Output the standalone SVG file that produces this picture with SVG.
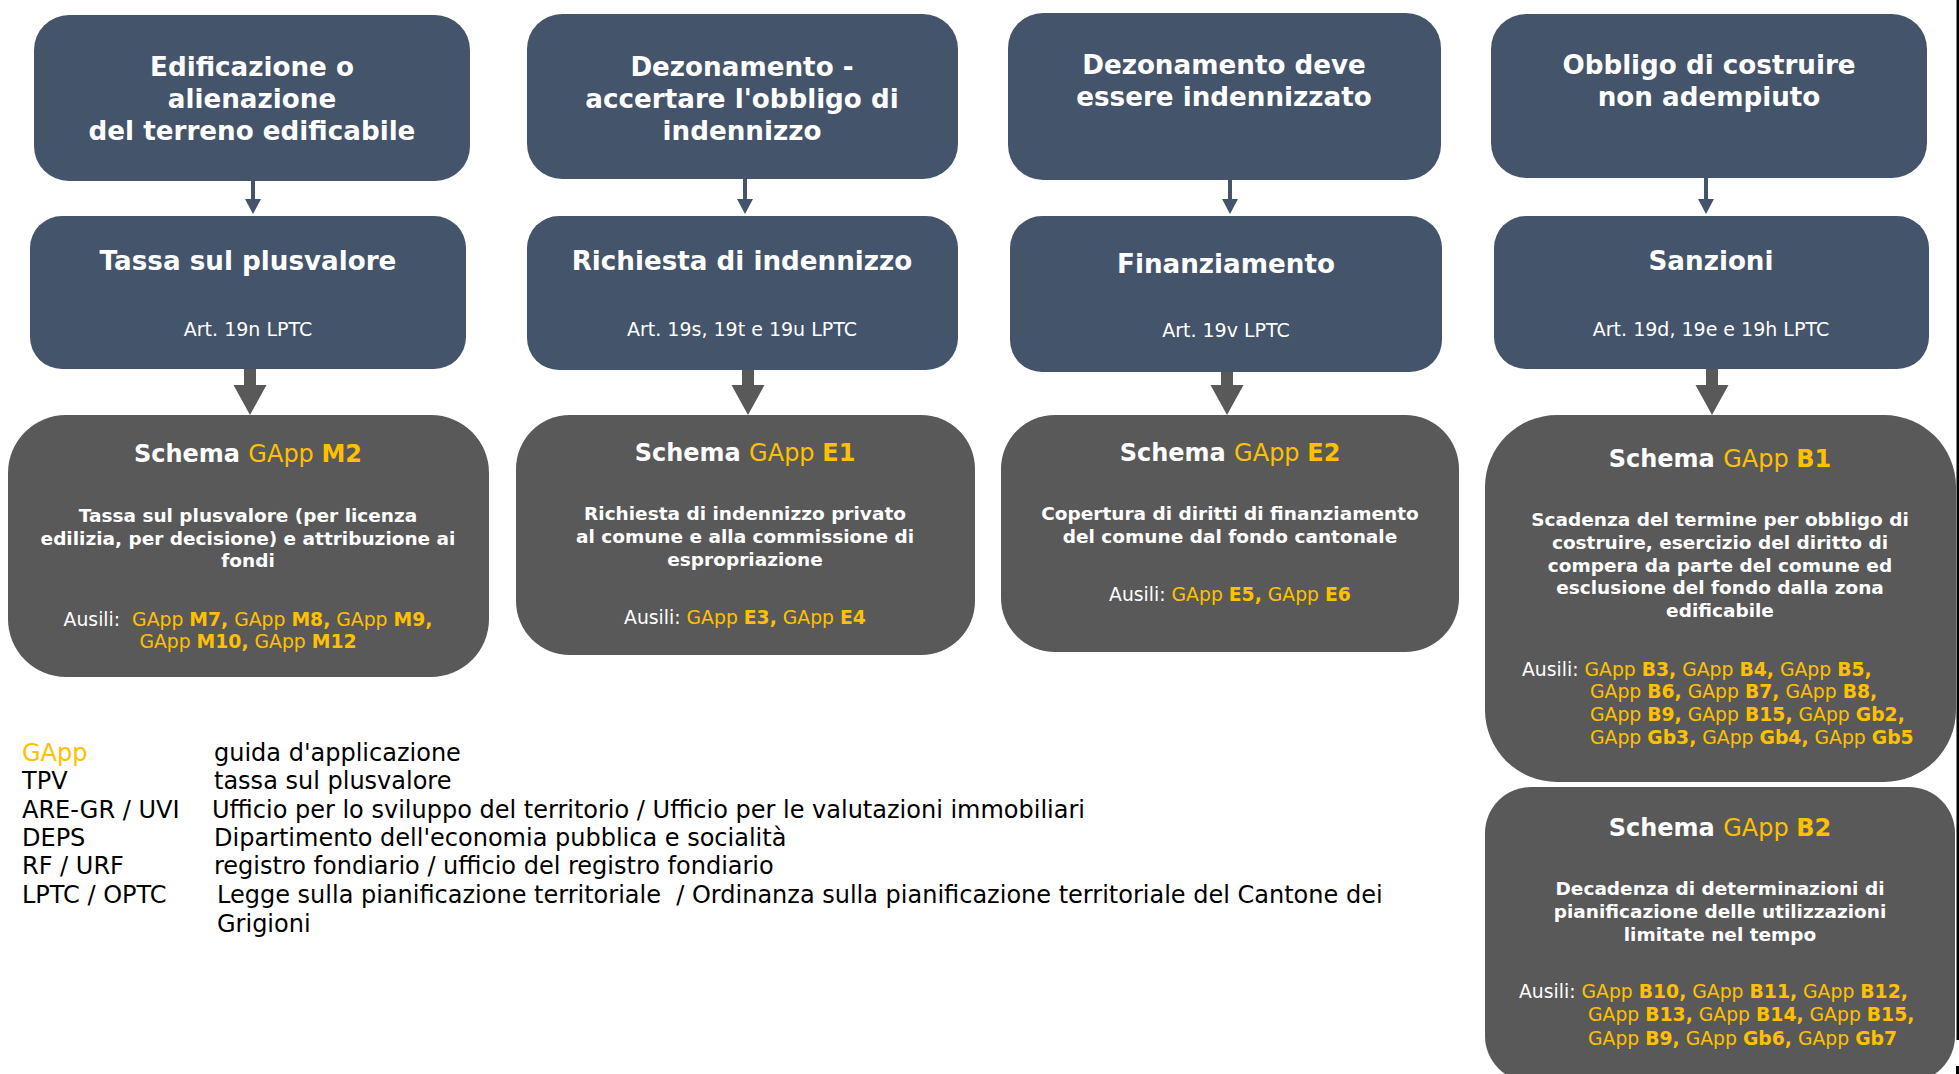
<svg xmlns="http://www.w3.org/2000/svg" width="1959" height="1074" viewBox="0 0 1959 1074">
<style>
.top{fill:#44546A}
.sch{fill:#595959}
.tt{font-family:"DejaVu Sans",Verdana,sans-serif;font-weight:bold;font-size:26.2px;fill:#fff;text-anchor:middle}
.art{font-family:"DejaVu Sans",Verdana,sans-serif;font-size:19px;fill:#fff;text-anchor:middle}
.sh{font-family:"DejaVu Sans",Verdana,sans-serif;font-size:24px;fill:#fff;text-anchor:middle;font-weight:bold}
.bd{font-family:"DejaVu Sans",Verdana,sans-serif;font-size:18.5px;fill:#fff;text-anchor:middle;font-weight:bold}
.au{font-family:"DejaVu Sans",Verdana,sans-serif;font-size:18.8px;fill:#FFC000}
.c{text-anchor:middle}
.r{font-weight:normal}
.b{font-weight:bold}
.w{fill:#fff}
.y{fill:#FFC000}
.lg{font-family:"DejaVu Sans",Verdana,sans-serif;font-size:24px;fill:#000}
.thin{stroke:#44546A;stroke-width:4;fill:none}
.thinh{fill:#44546A}
.thick{fill:#595959}
</style>

<g id="n-edificazione">
<rect class="top" x="34" y="15" width="436" height="166" rx="35"/>
<text class="tt"><tspan x="252" y="76">Edificazione o</tspan><tspan x="252" y="108">alienazione</tspan><tspan x="252" y="140">del terreno edificabile</tspan></text>
</g>
<g id="n-dezonamento">
<rect class="top" x="527" y="14" width="431" height="165" rx="35"/>
<text class="tt"><tspan x="742" y="76">Dezonamento -</tspan><tspan x="742" y="108">accertare l'obbligo di</tspan><tspan x="742" y="140">indennizzo</tspan></text>
</g>
<g id="n-dezonamento-deve">
<rect class="top" x="1008" y="13" width="433" height="167" rx="35"/>
<text class="tt"><tspan x="1224" y="74">Dezonamento deve</tspan><tspan x="1224" y="106">essere indennizzato</tspan></text>
</g>
<g id="n-obbligo">
<rect class="top" x="1491" y="14" width="436" height="164" rx="35"/>
<text class="tt"><tspan x="1709" y="74">Obbligo di costruire</tspan><tspan x="1709" y="106">non adempiuto</tspan></text>
</g>

<g id="n-tassa">
<rect class="top" x="30" y="216" width="436" height="153" rx="32"/>
<text class="tt" x="248" y="270">Tassa sul plusvalore</text>
<text class="art" x="248" y="336">Art. 19n LPTC</text>
</g>
<g id="n-richiesta">
<rect class="top" x="527" y="216" width="431" height="154" rx="32"/>
<text class="tt" x="742" y="270">Richiesta di indennizzo</text>
<text class="art" x="742" y="336">Art. 19s, 19t e 19u LPTC</text>
</g>
<g id="n-finanziamento">
<rect class="top" x="1010" y="216" width="432" height="156" rx="32"/>
<text class="tt" x="1226" y="273">Finanziamento</text>
<text class="art" x="1226" y="337">Art. 19v LPTC</text>
</g>
<g id="n-sanzioni">
<rect class="top" x="1494" y="216" width="435" height="153" rx="32"/>
<text class="tt" x="1711" y="270">Sanzioni</text>
<text class="art" x="1711" y="336">Art. 19d, 19e e 19h LPTC</text>
</g>

<g id="n-m2">
<rect class="sch" x="8" y="415" width="481" height="262" rx="58"/>
<text class="sh" x="248" y="462">Schema <tspan class="r y">GApp </tspan><tspan class="y">M2</tspan></text>
<text class="bd"><tspan x="248" y="522">Tassa sul plusvalore (per licenza</tspan><tspan x="248" y="544.5">edilizia, per decisione) e attribuzione ai</tspan><tspan x="248" y="567">fondi</tspan></text>
<text class="au c" x="248" y="626"><tspan class="w">Ausili:&#160; </tspan>GApp <tspan class="b">M7,</tspan> GApp <tspan class="b">M8,</tspan> GApp <tspan class="b">M9,</tspan></text>
<text class="au c" x="248" y="648">GApp <tspan class="b">M10,</tspan> GApp <tspan class="b">M12</tspan></text>
</g>
<g id="n-e1">
<rect class="sch" x="516" y="415" width="459" height="240" rx="54"/>
<text class="sh" x="745" y="461">Schema <tspan class="r y">GApp </tspan><tspan class="y">E1</tspan></text>
<text class="bd"><tspan x="745" y="520">Richiesta di indennizzo privato</tspan><tspan x="745" y="543">al comune e alla commissione di</tspan><tspan x="745" y="566">espropriazione</tspan></text>
<text class="au c" x="745" y="624"><tspan class="w">Ausili: </tspan>GApp <tspan class="b">E3,</tspan> GApp <tspan class="b">E4</tspan></text>
</g>
<g id="n-e2">
<rect class="sch" x="1001" y="415" width="458" height="237" rx="54"/>
<text class="sh" x="1230" y="461">Schema <tspan class="r y">GApp </tspan><tspan class="y">E2</tspan></text>
<text class="bd"><tspan x="1230" y="520">Copertura di diritti di finanziamento</tspan><tspan x="1230" y="543">del comune dal fondo cantonale</tspan></text>
<text class="au c" x="1230" y="601"><tspan class="w">Ausili: </tspan>GApp <tspan class="b">E5,</tspan> GApp <tspan class="b">E6</tspan></text>
</g>
<g id="n-b1">
<rect class="sch" x="1485" y="415" width="471" height="367" rx="72"/>
<text class="sh" x="1720" y="467">Schema <tspan class="r y">GApp </tspan><tspan class="y">B1</tspan></text>
<text class="bd"><tspan x="1720" y="526">Scadenza del termine per obbligo di</tspan><tspan x="1720" y="549">costruire, esercizio del diritto di</tspan><tspan x="1720" y="572">compera da parte del comune ed</tspan><tspan x="1720" y="594">esclusione del fondo dalla zona</tspan><tspan x="1720" y="617">edificabile</tspan></text>
<text class="au"><tspan class="w" x="1522" y="676">Ausili: </tspan>GApp <tspan class="b">B3,</tspan> GApp <tspan class="b">B4,</tspan> GApp <tspan class="b">B5,</tspan><tspan x="1590" y="698">GApp </tspan><tspan class="b">B6,</tspan> GApp <tspan class="b">B7,</tspan> GApp <tspan class="b">B8,</tspan><tspan x="1590" y="721">GApp </tspan><tspan class="b">B9,</tspan> GApp <tspan class="b">B15,</tspan> GApp <tspan class="b">Gb2,</tspan><tspan x="1590" y="744">GApp </tspan><tspan class="b">Gb3,</tspan> GApp <tspan class="b">Gb4,</tspan> GApp <tspan class="b">Gb5</tspan></text>
</g>
<g id="n-b2">
<rect class="sch" x="1485" y="787" width="470" height="295" rx="46"/>
<text class="sh" x="1720" y="836">Schema <tspan class="r y">GApp </tspan><tspan class="y">B2</tspan></text>
<text class="bd"><tspan x="1720" y="895">Decadenza di determinazioni di</tspan><tspan x="1720" y="918">pianificazione delle utilizzazioni</tspan><tspan x="1720" y="941">limitate nel tempo</tspan></text>
<text class="au"><tspan class="w" x="1519" y="998">Ausili: </tspan>GApp <tspan class="b">B10,</tspan> GApp <tspan class="b">B11,</tspan> GApp <tspan class="b">B12,</tspan><tspan x="1588" y="1021">GApp </tspan><tspan class="b">B13,</tspan> GApp <tspan class="b">B14,</tspan> GApp <tspan class="b">B15,</tspan><tspan x="1588" y="1045">GApp </tspan><tspan class="b">B9,</tspan> GApp <tspan class="b">Gb6,</tspan> GApp <tspan class="b">Gb7</tspan></text>
</g>

<g id="connectors">
<line class="thin" x1="253" y1="181" x2="253" y2="201"/>
<polygon class="thinh" points="245,199 261,199 253,214"/>
<line class="thin" x1="745" y1="179" x2="745" y2="201"/>
<polygon class="thinh" points="737,199 753,199 745,214"/>
<line class="thin" x1="1230" y1="180" x2="1230" y2="201"/>
<polygon class="thinh" points="1222,199 1238,199 1230,214"/>
<line class="thin" x1="1706" y1="178" x2="1706" y2="201"/>
<polygon class="thinh" points="1698,199 1714,199 1706,214"/>
<polygon class="thick" points="244,369 256,369 256,385 266.5,385 250,415 233.5,385 244,385"/>
<polygon class="thick" points="742,370 754,370 754,385 764.5,385 748,415 731.5,385 742,385"/>
<polygon class="thick" points="1221,372 1233,372 1233,385 1243.5,385 1227,415 1210.5,385 1221,385"/>
<polygon class="thick" points="1706,369 1718,369 1718,385 1728.5,385 1712,415 1695.5,385 1706,385"/>
</g>

<g id="legend" class="lg">
<text x="22" y="761" class="y">GApp</text><text x="214" y="761">guida d'applicazione</text>
<text x="22" y="789">TPV</text><text x="214" y="789">tassa sul plusvalore</text>
<text x="22" y="818">ARE-GR / UVI</text><text x="212" y="818">Ufficio per lo sviluppo del territorio / Ufficio per le valutazioni immobiliari</text>
<text x="22" y="846">DEPS</text><text x="214" y="846">Dipartimento dell'economia pubblica e socialità</text>
<text x="22" y="874">RF / URF</text><text x="214" y="874">registro fondiario / ufficio del registro fondiario</text>
<text x="22" y="903">LPTC / OPTC</text><text x="217" y="903">Legge sulla pianificazione territoriale &#160;/ Ordinanza sulla pianificazione territoriale del Cantone dei</text>
<text x="217" y="932">Grigioni</text>
</g>

<rect x="1956.5" y="0" width="2.5" height="1040" fill="#000"/>
<rect x="1956" y="1066" width="3" height="8" fill="#000"/>
</svg>
